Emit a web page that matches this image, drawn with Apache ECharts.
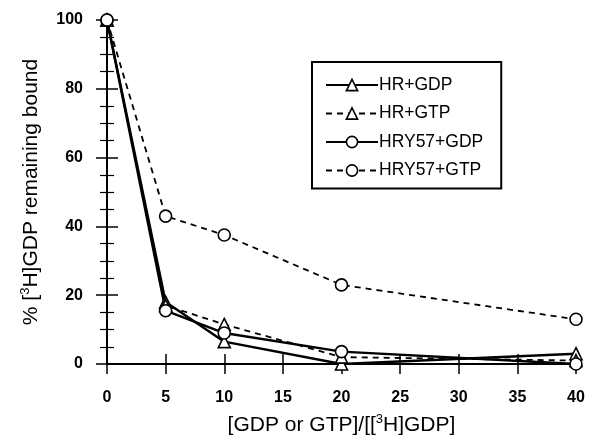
<!DOCTYPE html>
<html>
<head>
<meta charset="utf-8">
<script src="https://cdn.jsdelivr.net/npm/echarts@6/dist/echarts.min.js"></script>
<style>
html,body{margin:0;padding:0;background:#fff;}
#chart{width:592px;height:444px;}
</style>
</head>
<body>
<div id="chart"></div>
<script>
// ---- data ----
var xValues = [0, 5, 10, 20, 40];
var seriesNames = ['HR+GDP', 'HR+GTP', 'HRY57+GDP', 'HRY57+GTP'];
var hrGdp = [100, 18, 6.5, 0, 3];
var hrGtp = [100, 17, 11.5, 2, 1];
var hry57Gdp = [100, 15.5, 9, 3.6, 0];
var hry57Gtp = [100, 43, 37.5, 23, 13];
var xTicks = [0, 5, 10, 15, 20, 25, 30, 35, 40];
var yTicks = [0, 20, 40, 60, 80, 100];

function pairs(ys) { return xValues.map(function (x, i) { return [x, ys[i]]; }); }

var font = 'Liberation Sans, Arial, Helvetica, sans-serif';
var black = '#000';

function mkSeries(name, ys, symbol, dashed) {
  return {
    name: name,
    type: 'line',
    data: pairs(ys),
    symbol: symbol,
    symbolSize: 12,
    showAllSymbol: true,
    lineStyle: { color: black, width: dashed ? 1.8 : 2.4, type: dashed ? [6, 5] : 'solid' },
    itemStyle: { color: '#fff', borderColor: black, borderWidth: 1.6 },
    emphasis: { disabled: true },
    animation: false,
    z: 3
  };
}

var chart = echarts.init(document.getElementById('chart'), null, { renderer: 'canvas' });

var axisLine = { show: true, lineStyle: { color: black, width: 2 } };
var nameStyle = {
  color: black, fontSize: 21, fontFamily: font, lineHeight: 24,
  rich: { sup: { fontSize: 13, verticalAlign: 'top', lineHeight: 13, fontFamily: font, color: black } }
};

chart.setOption({
  animation: false,
  backgroundColor: '#fff',
  grid: { left: 107, right: 16, top: 20, bottom: 80, containLabel: false },
  legend: {
    orient: 'vertical',
    left: 312,
    top: 62,
    data: seriesNames,
    itemWidth: 52,
    itemHeight: 14,
    itemGap: 10.5,
    padding: [14, 18, 9, 13],
    borderColor: black,
    borderWidth: 2,
    backgroundColor: '#fff',
    textStyle: { color: black, fontSize: 17.5, fontFamily: font, padding: [0, 0, 0, -4] },
    itemStyle: { color: '#fff', borderColor: black, borderWidth: 1.6 },
    selectedMode: false
  },
  xAxis: [{
    type: 'value',
    min: 0, max: 40, interval: 5,
    position: 'bottom',
    axisLine: axisLine,
    axisTick: { show: true, inside: true, length: 10, lineStyle: { color: black, width: 1.5 } },
    axisLabel: {
      margin: 26, color: black, fontSize: 16, fontWeight: 'bold', fontFamily: font,
      formatter: function (v) { return xTicks.indexOf(v) >= 0 ? String(v) : ''; }
    },
    splitLine: { show: false },
    name: '[GDP or GTP]/[[{sup|3}H]GDP]',
    nameLocation: 'middle',
    nameGap: 49,
    nameTextStyle: nameStyle
  }, {
    type: 'value',
    min: 0, max: 40, interval: 5,
    position: 'top',
    axisLine: axisLine,
    axisTick: { show: true, inside: true, length: 10, lineStyle: { color: black, width: 1.5 } },
    axisLabel: { show: false },
    splitLine: { show: false }
  }],
  yAxis: [{
    type: 'value',
    min: 0, max: 100, interval: 20,
    position: 'left',
    axisLine: axisLine,
    axisTick: { show: true, inside: true, length: 11, lineStyle: { color: black, width: 1.5 } },
    minorTick: { show: true, splitNumber: 4, length: 7, lineStyle: { color: black, width: 1.2 } },
    axisLabel: {
      margin: 24, color: black, fontSize: 16, fontWeight: 'bold', fontFamily: font,
      formatter: function (v) { return yTicks.indexOf(v) >= 0 ? String(v) : ''; }
    },
    splitLine: { show: false },
    name: '% [{sup|3}H]GDP remaining bound',
    nameLocation: 'middle',
    nameGap: 64,
    nameTextStyle: nameStyle
  }, {
    type: 'value',
    min: 0, max: 100, interval: 20,
    position: 'right',
    axisLine: axisLine,
    axisTick: { show: true, inside: true, length: 11, lineStyle: { color: black, width: 1.5 } },
    minorTick: { show: true, splitNumber: 4, length: 7, lineStyle: { color: black, width: 1.2 } },
    axisLabel: { show: false },
    splitLine: { show: false }
  }],
  series: [
    mkSeries(seriesNames[0], hrGdp, 'triangle', false),
    mkSeries(seriesNames[1], hrGtp, 'triangle', true),
    mkSeries(seriesNames[2], hry57Gdp, 'circle', false),
    mkSeries(seriesNames[3], hry57Gtp, 'circle', true)
  ]
});
</script>
</body>
</html>
